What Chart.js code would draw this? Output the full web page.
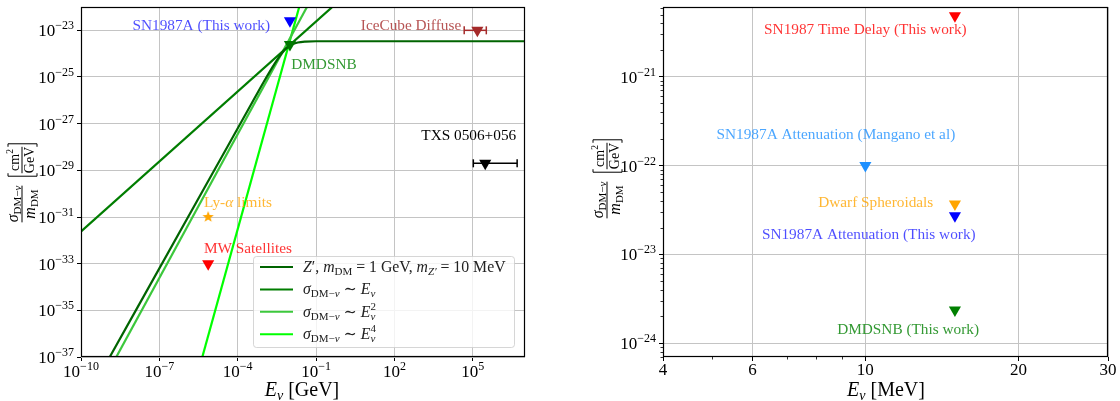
<!DOCTYPE html>
<html>
<head>
<meta charset="utf-8">
<script src="https://cdn.jsdelivr.net/npm/chart.js@4.4.0/dist/chart.umd.min.js"></script>
<style>
    html, body { margin: 0; padding: 0; background: #fff; }
    #wrap { position: relative; width: 1120px; height: 401px; }
    #wrap canvas { position: absolute; top: 0; }
</style>
</head>
<body>
<div id="wrap">
    <canvas id="left" width="560" height="401" style="left:0"></canvas>
    <canvas id="right" width="560" height="401" style="left:560px"></canvas>
</div>
<script>
// ---- left panel: E in GeV, sigma/m in cm^2/GeV ----
const zPrimeE = [1e-11, 1.26e-9, 1e-5, 3.16e-4, 1e-3, 2.5e-3, 5e-3, 7.9e-3, 1.26e-2, 2e-2, 4e-2, 0.1, 1, 1e7];
const zPrimeSigma = [6.3e-42, 1e-37, 6.3e-30, 6.3e-27, 6.3e-26, 3.5e-25, 1.07e-24, 1.8e-24, 2.5e-24, 3.0e-24, 3.3e-24, 3.4e-24, 3.4e-24, 3.4e-24];
const linE = [1e-11, 1];
const linSigma = [2.4e-33, 2.4e-22];
const quadE = [1e-9, 0.1];
const quadSigma = [1.9e-38, 5.2e-22];
const quartE = [2.5e-6, 4e-2];
const quartSigma = [1e-38, 1e-21];

const leftNames = ['SN1987A (This work)', 'DMDSNB', 'IceCube Diffuse', 'TXS 0506+056', 'Ly-α limits', 'MW Satellites'];
const leftE = [1e-2, 1e-2, 1.5e5, 3e5, 7.4e-6, 7.4e-6];
const leftSigma = [2.6e-23, 2.5e-24, 1e-23, 2e-29, 1e-31, 1e-33];
const iceCubeErrE = [4.7e4, 3.3e5];
const txsErrE = [1.05e5, 5e6];

const leftXTicks = [1e-10, 1e-7, 1e-4, 1e-1, 1e2, 1e5];
const leftYTicks = [1e-37, 1e-35, 1e-33, 1e-31, 1e-29, 1e-27, 1e-25, 1e-23];

// ---- right panel: E in MeV ----
const rightNames = ['SN1987 Time Delay (This work)', 'SN1987A Attenuation (Mangano et al)', 'Dwarf Spheroidals', 'SN1987A Attenuation (This work)', 'DMDSNB (This work)'];
const rightE = [15, 10, 15, 15, 15];
const rightSigma = [4.85e-21, 1e-22, 3.7e-23, 2.72e-23, 2.36e-24];

const rightXTicks = [4, 6, 10, 20, 30];
const rightXMinor = [5, 7, 8, 9];
const rightYTicks = [1e-24, 1e-23, 1e-22, 1e-21];

// styles and label anchors (data coords), kept apart from the values
const leftColors = ['#0000ff', '#007800', '#a52a2a', '#000000', '#ffa500', '#ff0000'];
const leftNoteColors = ['rgba(0,0,255,0.7)', 'rgba(0,128,0,0.8)', 'rgba(165,42,42,0.8)', '#000', 'rgba(255,165,0,0.8)', 'rgba(255,0,0,0.8)'];
const leftNoteAt = [[1.74e-3, 1.62e-23, 'right'], [1.12e-2, 3.5e-25, 'left'], [3.6e4, 1.62e-23, 'right'],
                    [1.07e3, 3.4e-28, 'left'], [5.1e-6, 4.4e-31, 'left'], [5.1e-6, 4.8e-33, 'left']];
const rightColors = ['#ff0000', '#1e90ff', '#ffa500', '#0000ff', '#008000'];
const rightNoteColors = ['rgba(255,0,0,0.8)', 'rgba(30,144,255,0.8)', 'rgba(255,165,0,0.8)', 'rgba(0,0,255,0.7)', 'rgba(0,128,0,0.8)'];
const rightNoteAt = [[10, 3.4e-21, 'center'], [8.75, 2.24e-22, 'center'], [13.6, 3.9e-23, 'right'],
                     [6.26, 1.7e-23, 'left'], [8.8, 1.45e-24, 'left']];
const lineColors = ['#006400', '#007d00', '#3cc83c', '#00ff00'];

const SERIF = '"Liberation Serif", "DejaVu Serif", serif';
const NOTE = 15.3;

function fnt(size, italic) {
    return (italic ? 'italic ' : '') + size + 'px ' + SERIF;
}

// parts: [text, size, italic, dy, noAdvance]
function richWidth(ctx, parts) {
    let w = 0;
    parts.forEach(p => {
        ctx.font = fnt(p[1], p[2]);
        if (!p[4]) w += ctx.measureText(p[0]).width;
    });
    return w;
}

function drawRich(ctx, parts, x, y, align) {
    const w = richWidth(ctx, parts);
    let cx = align === 'center' ? x - w / 2 : align === 'right' ? x - w : x;
    ctx.textAlign = 'left';
    ctx.textBaseline = 'alphabetic';
    parts.forEach(p => {
        ctx.font = fnt(p[1], p[2]);
        ctx.fillText(p[0], cx, y + (p[3] || 0));
        if (!p[4]) cx += ctx.measureText(p[0]).width;
    });
    return w;
}

function pow10(v) {
    const e = Math.round(Math.log10(v));
    return [['10', 17], [(e < 0 ? '\u2212' : '') + Math.abs(e), 12, false, -7]];
}

function noteParts(text) {
    if (text.indexOf('α') >= 0) {
        const i = text.indexOf('α');
        return [[text.slice(0, i), NOTE], ['α', NOTE, true], [text.slice(i + 1), NOTE]];
    }
    return [[text, NOTE]];
}

// sigma_{DM-nu}/m_DM [cm^2/GeV], rotated
function drawYTitle(ctx, cx, cy) {
    ctx.save();
    ctx.translate(cx, cy);
    ctx.rotate(-Math.PI / 2);
    ctx.fillStyle = '#000';
    ctx.strokeStyle = '#000';
    const num = [['σ', 16, true], ['DM\u2212', 11, false, 3], ['ν', 11, true, 3]];
    const den = [['m', 16, true], ['DM', 11, false, 3]];
    const fx = -22;
    const wn = drawRich(ctx, num, fx, -4, 'center');
    drawRich(ctx, den, fx, 13, 'center');
    ctx.fillRect(fx - wn / 2, -0.5, wn, 1);
    // bracket with cm^2 / GeV
    const gx = 22;
    const top = drawRich(ctx, [['cm', 14], ['2', 9.5, false, -6]], gx, -3, 'center');
    const bot = drawRich(ctx, [['GeV', 14]], gx, 12, 'center');
    const bw = Math.max(top, bot);
    ctx.fillRect(gx - bw / 2, -0.5, bw, 1);
    ctx.lineWidth = 1;
    const l = gx - bw / 2 - 3, r = gx + bw / 2 + 3;
    ctx.beginPath();
    ctx.moveTo(l + 3, -14); ctx.lineTo(l, -14); ctx.lineTo(l, 15); ctx.lineTo(l + 3, 15);
    ctx.moveTo(r - 3, -14); ctx.lineTo(r, -14); ctx.lineTo(r, 15); ctx.lineTo(r - 3, 15);
    ctx.stroke();
    ctx.restore();
}

const LG = 15.8, LS = 11;
const legendParts = [
    [['Z', LG, true], ['\u2032, ', LG], ['m', LG, true], ['DM', LS, false, 3], [' = 1 GeV, ', LG],
     ['m', LG, true], ['Z\u2032', LS, true, 3], [' = 10 MeV', LG]],
    [['σ', LG, true], ['DM\u2212', LS, false, 3], ['ν', LS, true, 3], [' \u223C ', LG], ['E', LG, true], ['ν', LS, true, 3]],
    [['σ', LG, true], ['DM\u2212', LS, false, 3], ['ν', LS, true, 3], [' \u223C ', LG], ['E', LG, true],
     ['2', LS, false, -7, true], ['ν', LS, true, 3]],
    [['σ', LG, true], ['DM\u2212', LS, false, 3], ['ν', LS, true, 3], [' \u223C ', LG], ['E', LG, true],
     ['4', LS, false, -7, true], ['ν', LS, true, 3]]
];

function drawLegend(ctx) {
    ctx.fillStyle = 'rgba(255,255,255,0.8)';
    ctx.strokeStyle = 'rgba(204,204,204,0.8)';
    ctx.lineWidth = 1;
    ctx.beginPath();
    if (ctx.roundRect) ctx.roundRect(253.5, 256.5, 261, 91, 3);
    else ctx.rect(253.5, 256.5, 261, 91);
    ctx.fill();
    ctx.stroke();
    legendParts.forEach((parts, i) => {
        const y = 267 + i * 22.4;
        ctx.strokeStyle = lineColors[i];
        ctx.lineWidth = 2;
        ctx.beginPath();
        ctx.moveTo(260, y);
        ctx.lineTo(293, y);
        ctx.stroke();
        ctx.fillStyle = '#222';
        drawRich(ctx, parts, 303, y + 5, 'left');
    });
}

function starImage(color, r) {
    const c = document.createElement('canvas');
    c.width = c.height = 2 * r + 2;
    const g = c.getContext('2d');
    g.fillStyle = color;
    g.beginPath();
    for (let i = 0; i < 10; i++) {
        const rad = i % 2 ? r * 0.42 : r;
        const ang = -Math.PI / 2 + i * Math.PI / 5;
        g.lineTo(r + 1 + rad * Math.cos(ang), r + 1 + rad * Math.sin(ang));
    }
    g.closePath();
    g.fill();
    return c;
}

const pts = (xs, ys) => xs.map((x, i) => ({ x: x, y: ys[i] }));

function lineSet(label, xs, ys, color, extra) {
    return Object.assign({
        label: label, data: pts(xs, ys), showLine: true, borderColor: color, borderWidth: 2.2,
        pointRadius: 0, pointHoverRadius: 0, fill: false, order: 1
    }, extra || {});
}

function markerSet(label, x, y, color, style) {
    return {
        label: label, data: [{ x: x, y: y }], showLine: false,
        pointStyle: style || 'triangle', pointRotation: style ? 0 : 180, pointRadius: 7,
        pointBackgroundColor: color, pointBorderColor: color, pointBorderWidth: 0,
        clip: false, order: 0
    };
}

function errSet(xs, y, color) {
    return {
        data: pts(xs, [y, y]), showLine: true, borderColor: color, borderWidth: 1.5,
        pointStyle: 'line', pointRotation: 90, pointRadius: 4,
        pointBorderColor: color, pointBorderWidth: 1.5, clip: false, order: 0
    };
}

function logAxis(min, max, ticks, size, isX) {
    return {
        type: 'logarithmic', min: min, max: max, position: isX ? 'bottom' : 'left',
        ticks: { display: false },
        grid: { color: '#c4c4c4', lineWidth: 1, drawTicks: true, tickLength: 4, tickColor: '#000', tickWidth: 1 },
        border: { display: false },
        afterBuildTicks: s => { s.ticks = ticks.map(v => ({ value: v })); },
        afterFit: s => { if (isX) s.height = size; else s.width = size; }
    };
}

function drawNotes(ctx, xs, ys, names, colors, at) {
    names.forEach((name, i) => {
        ctx.fillStyle = colors[i];
        const px = xs.getPixelForValue(at[i][0]);
        const py = ys.getPixelForValue(at[i][1]);
        drawRich(ctx, noteParts(name), px, py + 5, at[i][2]);
    });
}

function drawBox(ctx, a) {
    ctx.strokeStyle = '#000';
    ctx.lineWidth = 1.2;
    ctx.strokeRect(a.left + 0.5, a.top + 0.5, a.right - a.left - 1, a.bottom - a.top - 1);
}

const leftPlugin = {
    id: 'leftPanel',
    afterDatasetsDraw(chart) {
        const ctx = chart.ctx, a = chart.chartArea, xs = chart.scales.x, ys = chart.scales.y;
        ctx.save();
        drawNotes(ctx, xs, ys, leftNames, leftNoteColors, leftNoteAt);
        drawLegend(ctx);
        drawBox(ctx, a);
        ctx.fillStyle = '#000';
        leftXTicks.forEach(v => drawRich(ctx, pow10(v), xs.getPixelForValue(v), 377, 'center'));
        leftYTicks.forEach(v => drawRich(ctx, pow10(v), a.left - 7, ys.getPixelForValue(v) + 6, 'right'));
        drawRich(ctx, [['E', 20, true], ['ν', 14, true, 4], [' [GeV]', 20]], 302, 396, 'center');
        drawYTitle(ctx, 22, 182);
        ctx.restore();
    }
};

const rightPlugin = {
    id: 'rightPanel',
    afterDatasetsDraw(chart) {
        const ctx = chart.ctx, a = chart.chartArea, xs = chart.scales.x, ys = chart.scales.y;
        ctx.save();
        drawNotes(ctx, xs, ys, rightNames, rightNoteColors, rightNoteAt);
        drawBox(ctx, a);
        // minor ticks
        ctx.strokeStyle = '#000';
        ctx.lineWidth = 0.8;
        ctx.beginPath();
        rightXMinor.forEach(v => {
            const px = Math.round(xs.getPixelForValue(v)) + 0.5;
            ctx.moveTo(px, a.bottom); ctx.lineTo(px, a.bottom + 2.5);
        });
        for (let e = -25; e <= -21; e++) {
            for (let m = 2; m <= 9; m++) {
                const v = m * Math.pow(10, e);
                if (v <= ys.min || v >= ys.max) continue;
                const py = Math.round(ys.getPixelForValue(v)) + 0.5;
                ctx.moveTo(a.left, py); ctx.lineTo(a.left - 2.5, py);
            }
        }
        ctx.stroke();
        ctx.fillStyle = '#000';
        rightXTicks.forEach(v => drawRich(ctx, [[String(v), 17]], xs.getPixelForValue(v), 375, 'center'));
        rightYTicks.forEach(v => drawRich(ctx, pow10(v), a.left - 7, ys.getPixelForValue(v) + 6, 'right'));
        drawRich(ctx, [['E', 20, true], ['ν', 14, true, 4], [' [MeV]', 20]], 326, 396, 'center');
        drawYTitle(ctx, 47, 178);
        ctx.restore();
    }
};

const baseOptions = (padRight, x, y) => ({
    responsive: false,
    animation: false,
    events: [],
    layout: { padding: { top: 4, right: padRight, left: 0, bottom: 0 } },
    plugins: { legend: { display: false }, tooltip: { enabled: false } },
    scales: { x: x, y: y }
});

const star = starImage('#ffa500', 6);

new Chart(document.getElementById('left'), {
    type: 'scatter',
    data: {
        datasets: [
            markerSet(leftNames[0], leftE[0], leftSigma[0], leftColors[0]),
            markerSet(leftNames[1], leftE[1], leftSigma[1], leftColors[1]),
            errSet(iceCubeErrE, leftSigma[2], leftColors[2]),
            markerSet(leftNames[2], leftE[2], leftSigma[2], leftColors[2]),
            errSet(txsErrE, leftSigma[3], leftColors[3]),
            markerSet(leftNames[3], leftE[3], leftSigma[3], leftColors[3]),
            markerSet(leftNames[4], leftE[4], leftSigma[4], leftColors[4], star),
            markerSet(leftNames[5], leftE[5], leftSigma[5], leftColors[5]),
            lineSet("Z'", zPrimeE, zPrimeSigma, lineColors[0], { cubicInterpolationMode: 'monotone' }),
            lineSet('E', linE, linSigma, lineColors[1]),
            lineSet('E^2', quadE, quadSigma, lineColors[2]),
            lineSet('E^4', quartE, quartSigma, lineColors[3])
        ]
    },
    options: baseOptions(35, logAxis(1e-10, 1e7, leftXTicks, 44, true), logAxis(1e-37, 1e-22, leftYTicks, 81, false)),
    plugins: [leftPlugin]
});

new Chart(document.getElementById('right'), {
    type: 'scatter',
    data: {
        datasets: rightNames.map((n, i) => markerSet(n, rightE[i], rightSigma[i], rightColors[i]))
    },
    options: baseOptions(12, logAxis(4, 30, rightXTicks, 44, true), logAxis(7.03e-25, 6.08e-21, rightYTicks, 103, false)),
    plugins: [rightPlugin]
});
</script>
</body>
</html>
